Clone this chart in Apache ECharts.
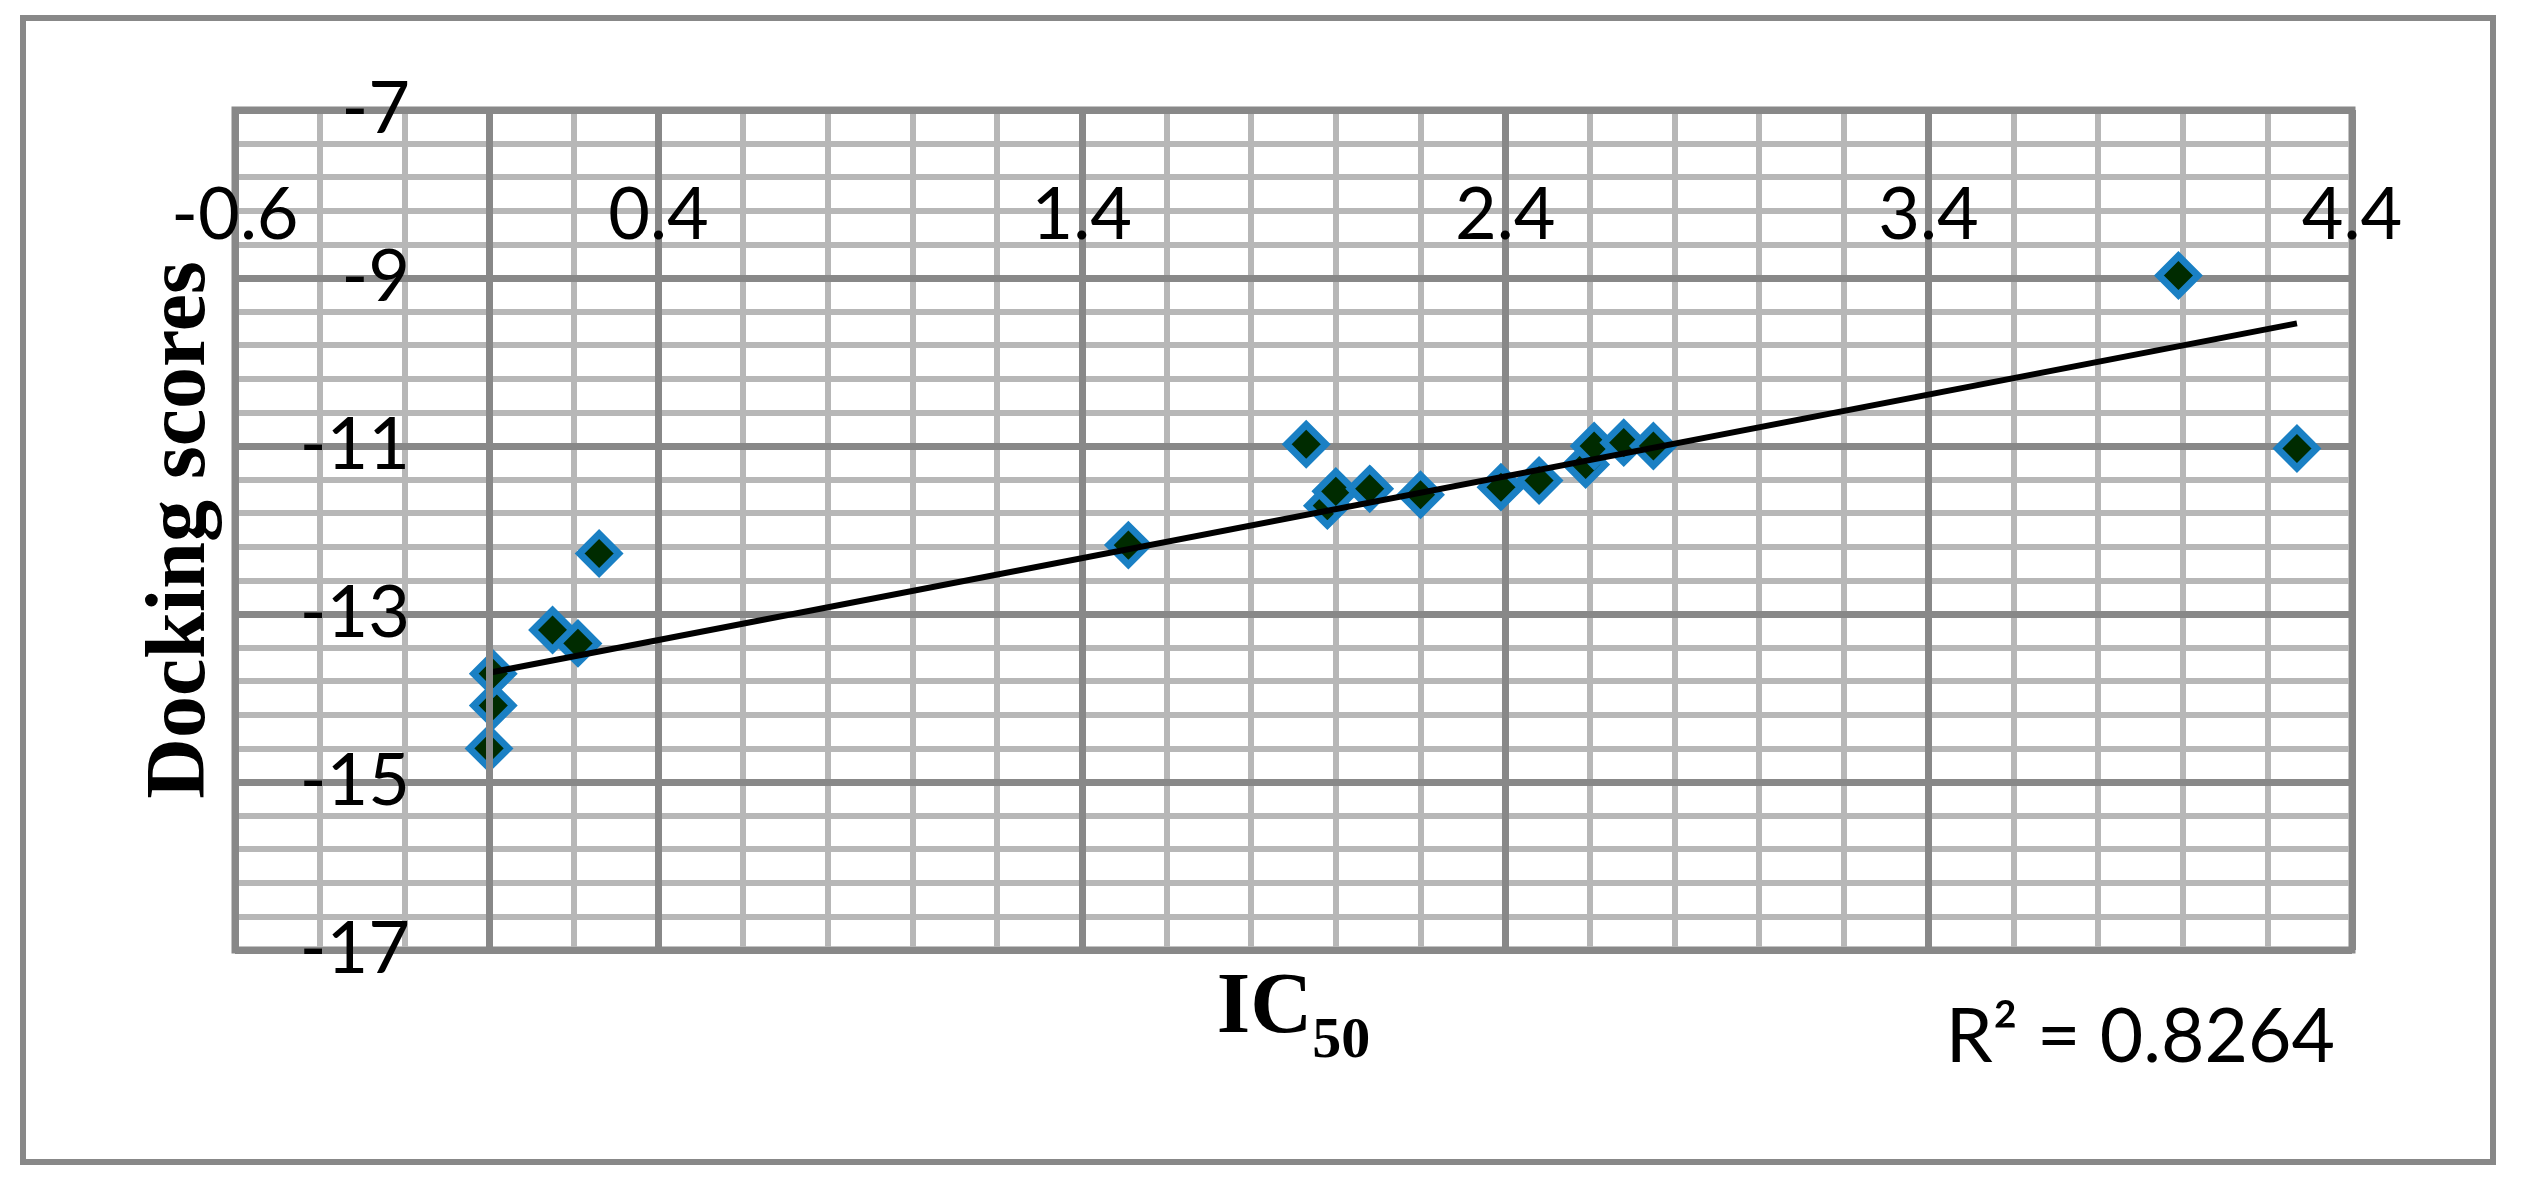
<!DOCTYPE html>
<html>
<head>
<meta charset="utf-8">
<title>Docking scores vs IC50</title>
<script src="https://cdn.jsdelivr.net/npm/echarts@6/dist/echarts.min.js"></script>
<style>
  html, body { margin: 0; padding: 0; background: #fff; }
  #chart { width: 2521px; height: 1186px; }
</style>
</head>
<body>
<div id="chart"></div>
<script>
// IC50 values (x) and docking scores (y)
const ic50 = [0.00, 0.01, 0.01, 0.15, 0.21, 0.26, 1.51, 1.93, 1.98, 2.00,
              2.08, 2.20, 2.39, 2.48, 2.59, 2.61, 2.68, 2.75, 3.99, 4.27];
const docking = [-14.60, -14.09, -13.71, -13.19, -13.35, -12.28, -12.18, -10.98, -11.71, -11.54,
                 -11.51, -11.58, -11.49, -11.41, -11.22, -11.00, -10.96, -11.00, -8.97, -11.03];

// linear trend line end points
const trendX = [0.00, 4.27];
const trendY = [-13.70, -9.54];

const xTicks = [-0.6, 4.4];   // axis range
const yTicks = [-17, -7];
const yAxisCross = 0;         // vertical axis crosses at IC50 = 0
const rSquared = '0.8264';

const points = ic50.map((x, i) => [x, docking[i]]);
const trend = trendX.map((x, i) => [x, trendY[i]]);

const chart = echarts.init(document.getElementById('chart'));

const labelFont = 'Lato';
const serif = 'Liberation Serif';
const minorColor = '#b7b7b7';
const majorColor = '#888888';

const option = {
    animation: false,
    backgroundColor: '#fff',
    grid: {
        left: 235,
        top: 110,
        right: 169,
        bottom: 236,
        containLabel: false,
        outerBoundsMode: 'none',
        show: true,
        borderColor: majorColor,
        borderWidth: 7
    },
    xAxis: [{
        // major lines + tick labels, shown inside from the top edge
        type: 'value',
        position: 'top',
        min: xTicks[0],
        max: xTicks[1],
        interval: 1,
        z: 1,
        axisLine: { show: false, onZero: false },
        axisTick: { show: false },
        axisLabel: {
            inside: true,
            margin: 70,
            fontFamily: labelFont,
            fontSize: 72,
            color: '#000',
            showMinLabel: true,
            showMaxLabel: true
        },
        splitLine: { show: true, lineStyle: { color: majorColor, width: 7 } }
    }, {
        // minor lines, carries the axis title
        type: 'value',
        position: 'bottom',
        min: xTicks[0],
        max: xTicks[1],
        interval: 0.2,
        z: 0,
        axisLine: { show: false, onZero: false },
        axisTick: { show: false },
        axisLabel: { show: false },
        splitLine: { show: true, lineStyle: { color: minorColor, width: 6 } },
        name: '{a|IC}{b|50}',
        nameLocation: 'middle',
        nameGap: 17,
        nameTextStyle: {
            rich: {
                a: { fontFamily: serif, fontWeight: 'bold', fontSize: 86, lineHeight: 86, color: '#000', verticalAlign: 'top' },
                b: { fontFamily: serif, fontWeight: 'bold', fontSize: 58, lineHeight: 104, color: '#000', verticalAlign: 'bottom' }
            }
        }
    }],
    yAxis: [{
        type: 'value',
        position: 'left',
        min: yTicks[0],
        max: yTicks[1],
        interval: 2,
        z: 1,
        axisLine: { show: false, onZero: false },
        axisTick: { show: false },
        axisLabel: {
            // labels sit just left of the axis that crosses at x = 0
            margin: -175,
            fontFamily: labelFont,
            fontSize: 72,
            color: '#000',
            showMinLabel: true,
            showMaxLabel: true
        },
        splitLine: { show: true, lineStyle: { color: majorColor, width: 7 } },
        name: 'Docking scores',
        nameLocation: 'middle',
        nameRotate: 90,
        nameGap: 11,
        nameTextStyle: {
            fontFamily: serif,
            fontWeight: 'bold',
            fontSize: 84,
            color: '#000'
        }
    }, {
        type: 'value',
        position: 'right',
        min: yTicks[0],
        max: yTicks[1],
        interval: 0.4,
        z: 0,
        axisLine: { show: false, onZero: false },
        axisTick: { show: false },
        axisLabel: { show: false },
        splitLine: { show: true, lineStyle: { color: minorColor, width: 6 } }
    }],
    graphic: [{
        type: 'rect',
        shape: { x: 23, y: 18, width: 2470, height: 1144 },
        style: { fill: 'none', stroke: majorColor, lineWidth: 6 },
        silent: true
    }, {
        type: 'text',
        right: 186,
        top: 1000,
        style: {
            text: 'R² = ' + rSquared,
            fontFamily: labelFont,
            fontSize: 75,
            fill: '#000'
        }
    }],
    series: [{
        // vertical axis line at x = 0
        name: 'axis',
        type: 'line',
        xAxisIndex: 0,
        yAxisIndex: 0,
        data: [],
        z: 1,
        silent: true,
        markLine: {
            silent: true,
            symbol: 'none',
            label: { show: false },
            lineStyle: { color: majorColor, width: 7, type: 'solid' },
            data: [{ xAxis: yAxisCross }]
        }
    }, {
        name: 'Docking scores',
        type: 'scatter',
        xAxisIndex: 0,
        yAxisIndex: 0,
        symbol: 'diamond',
        symbolSize: 39,
        itemStyle: {
            color: '#002b00',
            borderColor: '#1a80c4',
            borderWidth: 7,
            opacity: 1
        },
        z: 3,
        data: points
    }, {
        name: 'Linear trend',
        type: 'line',
        xAxisIndex: 0,
        yAxisIndex: 0,
        showSymbol: false,
        symbol: 'none',
        lineStyle: { color: '#000', width: 6 },
        z: 4,
        data: trend
    }]
};

chart.setOption(option);
window.onresize = () => {
    chart.resize();
};
</script>
</body>
</html>
